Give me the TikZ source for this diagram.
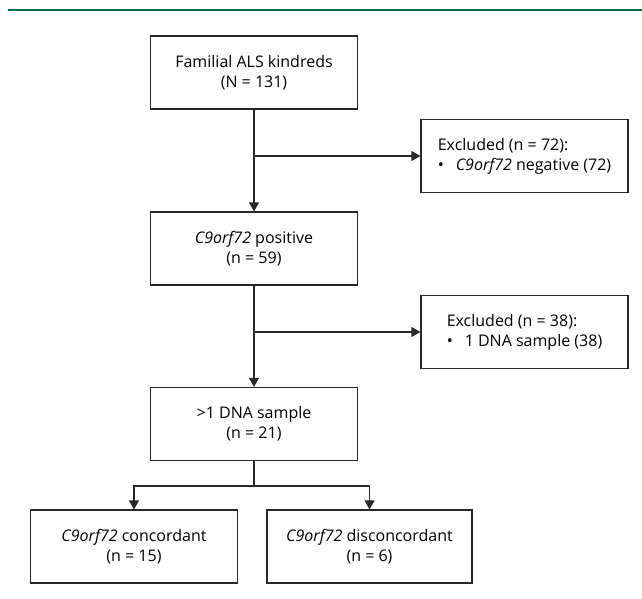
\documentclass[tikz,border=0pt]{standalone}
\usepackage{fontspec}
\setmainfont{Open Sans}
\usetikzlibrary{arrows.meta,calc}
\definecolor{topgreen}{RGB}{0,107,72}
\definecolor{linegray}{RGB}{40,40,40}
\begin{document}
\begin{tikzpicture}[x=1pt,y=-1pt,
  box/.style={draw=linegray,line width=1.2pt,minimum width=207pt,minimum height=73pt,inner sep=0pt,align=center,font=\fontsize{16}{20}\selectfont},
  exbox/.style={box,align=left},
  conn/.style={draw=linegray,line width=1.2pt},
  arr/.style={conn,-{Triangle[width=10pt,length=9pt]}}]
\useasboundingbox (0,0) rectangle (642,598);
\draw[topgreen,line width=2.4pt] (8,10) -- (642,10);
\node[box] (b1) at (254,72.5) {Familial ALS kindreds\\(N = 131)};
\node[box] (b2) at (254,248.5) {\textit{C9orf72} positive\\(n = 59)};
\node[box] (b3) at (254,424) {>1 DNA sample\\(n = 21)};
\node[box] (b4) at (134,546.5) {\textit{C9orf72} concordant\\(n = 15)};
\node[box,minimum width=205pt] (b5) at (369.5,546.5) {\textit{C9orf72} disconcordant\\(n = 6)};
\node[exbox] (e1) at (524.5,156) {Excluded (n = 72):\\\textbullet\hspace{12pt}\textit{C9orf72} negative (72)};
\node[exbox] (e2) at (524.5,332) {Excluded (n = 38):\\\textbullet\hspace{12pt}1 DNA sample (38)};
\draw[arr] (b1.south) -- (b2.north);
\draw[arr] (b1.south |- e1.west) -- (e1.west);
\draw[arr] (b2.south) -- (b3.north);
\draw[arr] (b2.south |- e2.west) -- (e2.west);
\coordinate (split) at (254,486);
\draw[conn] (b3.south) -- (split);
\draw[arr] (split) -| (b4.north);
\draw[arr] (split) -| (b5.north);
\end{tikzpicture}
\end{document}
